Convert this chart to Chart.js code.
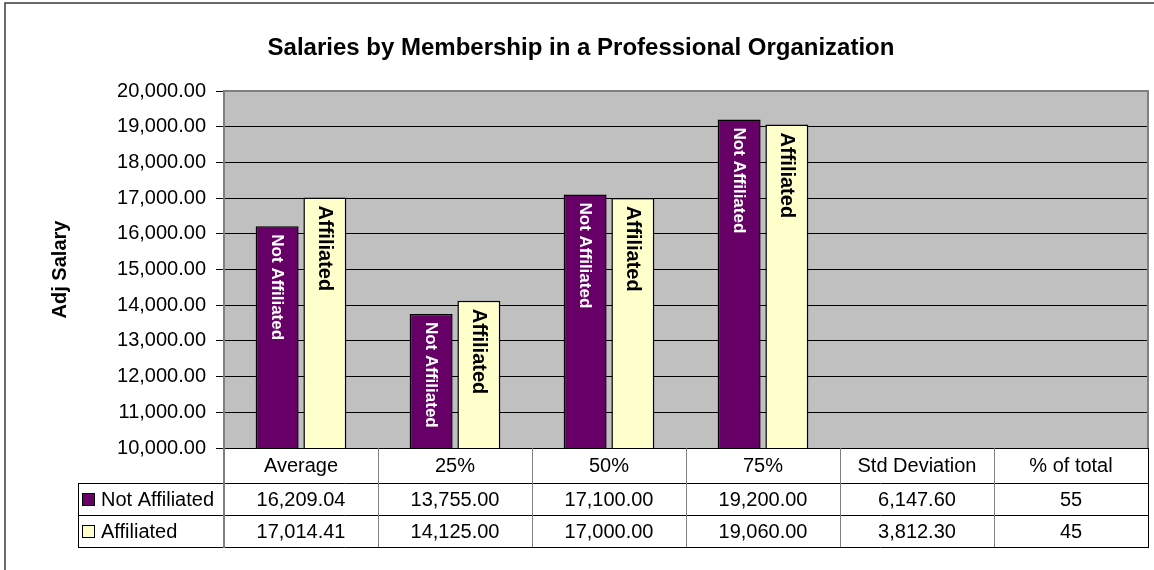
<!DOCTYPE html>
<html>
<head>
<meta charset="utf-8">
<script src="https://cdn.jsdelivr.net/npm/chart.js@4.4.1/dist/chart.umd.min.js"></script>
<style>
  html, body { margin: 0; padding: 0; background: #fff; }
  canvas { display: block; }
</style>
</head>
<body>
<canvas id="salaryChart" width="1154" height="570"></canvas>
<script>
const categories = ['Average', '25%', '50%', '75%', 'Std Deviation', '% of total'];
const notAffiliated = [16209.04, 13755.00, 17100.00, 19200.00, 6147.60, 55];
const affiliated = [17014.41, 14125.00, 17000.00, 19060.00, 3812.30, 45];
const decimals = [2, 2, 2, 2, 2, 0];
const yTicks = { min: 10000, max: 20000, step: 1000 };

const FONT = "'Liberation Sans', Arial, sans-serif";

function fmt(v, d) {
  return v.toLocaleString('en-US', { minimumFractionDigits: d, maximumFractionDigits: d });
}

// plot background + frame, title, axis title, bar labels, data table
const excelBits = {
  id: 'excelBits',
  beforeDraw(chart) {
    const { ctx, chartArea: a } = chart;
    ctx.save();
    ctx.fillStyle = '#c0c0c0';
    ctx.fillRect(a.left, a.top, a.right - a.left, a.bottom - a.top);
    ctx.restore();
  },
  afterDatasetsDraw(chart) {
    const { ctx } = chart;
    const yMin = chart.scales.y.min;
    const styles = [
      { color: '#ffffff', font: 'bold 17px ' + FONT, off: 8 },
      { color: '#000000', font: 'bold 20px ' + FONT, off: 8 }
    ];
    chart.data.datasets.forEach((ds, di) => {
      const meta = chart.getDatasetMeta(di);
      meta.data.forEach((bar, i) => {
        if (ds.data[i] <= yMin) return;
        ctx.save();
        ctx.translate(bar.x, bar.y + styles[di].off);
        ctx.rotate(Math.PI / 2);
        ctx.font = styles[di].font;
        ctx.fillStyle = styles[di].color;
        ctx.textAlign = 'left';
        ctx.textBaseline = 'middle';
        ctx.fillText(ds.label, 0, 0);
        ctx.restore();
      });
    });
  },
  afterDraw(chart) {
    const { ctx, chartArea: a } = chart;
    const x = chart.scales.x;
    ctx.save();

    // outer frame
    ctx.strokeStyle = '#3a3a3a';
    ctx.lineWidth = 1.5;
    ctx.strokeRect(5, 3, 1200, 700);

    // title
    ctx.fillStyle = '#000';
    ctx.font = 'bold 24px ' + FONT;
    ctx.textAlign = 'center';
    ctx.textBaseline = 'middle';
    ctx.fillText('Salaries by Membership in a Professional Organization', 581, 48);

    // y axis title
    ctx.save();
    ctx.translate(60, (a.top + a.bottom) / 2);
    ctx.rotate(-Math.PI / 2);
    ctx.font = 'bold 20px ' + FONT;
    ctx.fillText('Adj Salary', 0, 0);
    ctx.restore();

    // data table
    const headTop = a.bottom, row1 = a.bottom + 35, row2 = row1 + 32, tableBottom = row2 + 32;
    const legendLeft = 78;
    const colW = (a.right - a.left) / categories.length;

    ctx.strokeStyle = '#000';
    ctx.lineWidth = 1;
    ctx.beginPath();
    ctx.moveTo(a.left, headTop + 0.5); ctx.lineTo(a.right, headTop + 0.5);
    [row1, row2, tableBottom].forEach(yy => {
      ctx.moveTo(legendLeft, yy + 0.5); ctx.lineTo(a.right, yy + 0.5);
    });
    ctx.moveTo(legendLeft + 0.5, row1); ctx.lineTo(legendLeft + 0.5, tableBottom + 1);
    ctx.moveTo(a.right + 0.5, headTop); ctx.lineTo(a.right + 0.5, tableBottom + 1);
    ctx.stroke();

    ctx.strokeStyle = '#808080';
    ctx.beginPath();
    for (let i = 1; i < categories.length; i++) {
      const cx = Math.round(a.left + colW * i) + 0.5;
      ctx.moveTo(cx, headTop); ctx.lineTo(cx, tableBottom);
    }
    ctx.stroke();

    // plot frame (gray) and axis line running down through the table
    ctx.lineWidth = 2;
    ctx.beginPath();
    ctx.moveTo(a.left, tableBottom + 1);
    ctx.lineTo(a.left, a.top);
    ctx.lineTo(a.right, a.top);
    ctx.lineTo(a.right, a.bottom);
    ctx.stroke();

    ctx.fillStyle = '#000';
    ctx.font = '20px ' + FONT;
    ctx.textAlign = 'center';
    ctx.textBaseline = 'middle';
    categories.forEach((c, i) => {
      const cx = x.getPixelForValue(i);
      ctx.fillText(c, cx, (headTop + row1) / 2 + 1);
      ctx.fillText(fmt(notAffiliated[i], decimals[i]), cx, (row1 + row2) / 2 + 1);
      ctx.fillText(fmt(affiliated[i], decimals[i]), cx, (row2 + tableBottom) / 2 + 1);
    });

    // legend keys
    const rows = [[row1, row2], [row2, tableBottom]];
    chart.data.datasets.forEach((ds, di) => {
      const cy = (rows[di][0] + rows[di][1]) / 2;
      ctx.fillStyle = ds.backgroundColor;
      ctx.fillRect(82, cy - 6, 13, 13);
      ctx.strokeStyle = '#000';
      ctx.lineWidth = 1;
      ctx.strokeRect(82.5, cy - 5.5, 12, 12);
      ctx.fillStyle = '#000';
      ctx.textAlign = 'left';
      ctx.fillText(ds.label, 101, cy + 1);
    });

    ctx.restore();
  }
};

const salaryData = {
  labels: categories,
  datasets: [{
    label: 'Not Affiliated',
    data: notAffiliated,
    backgroundColor: '#660066',
    borderColor: '#000',
    borderWidth: 1.5,
    categoryPercentage: 0.62,
    barPercentage: 0.9
  }, {
    label: 'Affiliated',
    data: affiliated,
    backgroundColor: '#ffffcc',
    borderColor: '#000',
    borderWidth: 1.5,
    categoryPercentage: 0.62,
    barPercentage: 0.9
  }]
};

const configSalary = {
  type: 'bar',
  data: salaryData,
  options: {
    responsive: false,
    animation: false,
    devicePixelRatio: 1,
    layout: { padding: { top: 91, bottom: 122, left: 0, right: 6 } },
    plugins: {
      legend: { display: false },
      tooltip: { enabled: false }
    },
    scales: {
      x: { display: false },
      y: {
        min: yTicks.min,
        max: yTicks.max,
        afterFit(scale) { scale.width = 224; },
        border: { display: false },
        grid: {
          color: ctx => (ctx.tick && ctx.tick.value === yTicks.max ? 'rgba(0,0,0,0)' : '#000'),
          lineWidth: 1,
          tickLength: 8,
          tickColor: '#000',
          drawTicks: true
        },
        ticks: {
          stepSize: yTicks.step,
          padding: 10,
          color: '#000',
          font: { family: FONT, size: 20 },
          callback: v => fmt(v, 2)
        }
      }
    }
  },
  plugins: [excelBits]
};

const chartSalary = document.getElementById('salaryChart');
var myChartSalary = new Chart(chartSalary, configSalary);
</script>
</body>
</html>
